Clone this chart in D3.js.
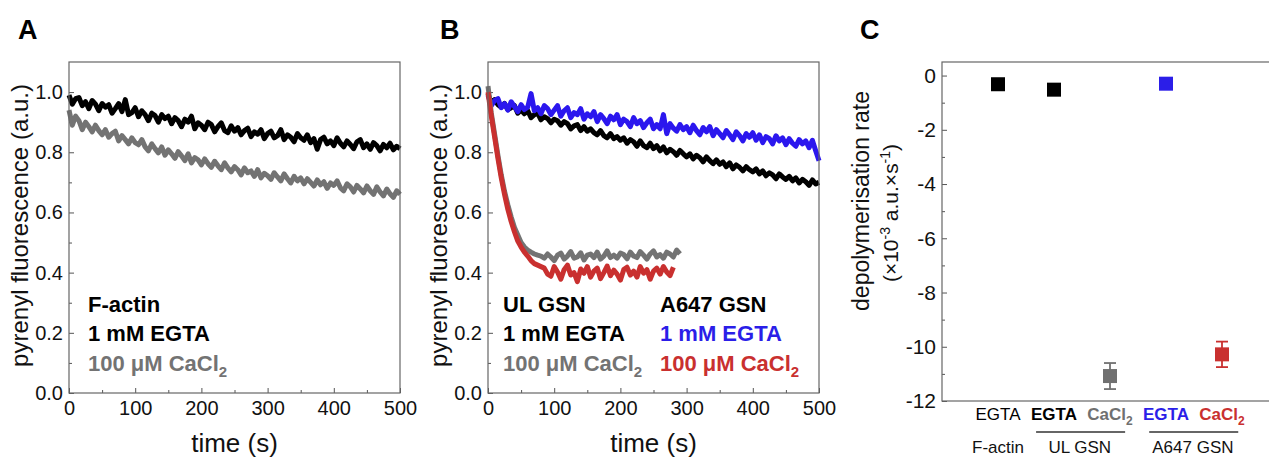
<!DOCTYPE html>
<html><head><meta charset="utf-8">
<script src="https://cdn.jsdelivr.net/npm/d3@7"></script>
<style>
body{margin:0;background:#fff}
svg{display:block;font-family:"Liberation Sans",Arial,Helvetica,sans-serif}
</style>
</head><body>
<svg id="chart" width="1269" height="458"></svg>
<script>
// ---------------- DATA ----------------
const timeStep = 5; // seconds between samples
// Panel A: F-actin, 1 mM EGTA (black)
const aEgta = [
0.99,0.96,0.978,0.982,0.955,0.968,0.945,0.972,0.96,0.938,0.962,
0.95,0.958,0.93,0.945,0.962,0.935,0.975,0.925,0.932,0.948,
0.918,0.938,0.925,0.905,0.93,0.922,0.9,0.925,0.912,0.92,
0.895,0.915,0.905,0.885,0.91,0.9,0.92,0.878,0.898,0.89,
0.875,0.9,0.892,0.868,0.885,0.898,0.872,0.865,0.888,0.87,
0.882,0.858,0.872,0.88,0.852,0.868,0.86,0.875,0.845,0.862,
0.87,0.848,0.855,0.875,0.842,0.858,0.85,0.835,0.862,0.848,
0.84,0.858,0.832,0.845,0.81,0.842,0.85,0.828,0.838,0.822,
0.848,0.83,0.818,0.838,0.826,0.812,0.835,0.842,0.815,0.828,
0.81,0.832,0.822,0.805,0.826,0.815,0.83,0.808,0.82,0.812];
// Panel A: F-actin, 100 uM CaCl2 (grey)
const aCa = [
0.94,0.89,0.92,0.905,0.875,0.9,0.885,0.868,0.89,0.872,0.858,
0.875,0.85,0.862,0.87,0.838,0.855,0.842,0.828,0.848,0.832,
0.825,0.842,0.818,0.805,0.828,0.812,0.798,0.818,0.79,0.808,
0.795,0.78,0.802,0.788,0.772,0.795,0.765,0.782,0.775,0.758,
0.778,0.762,0.75,0.77,0.755,0.742,0.765,0.748,0.735,0.752,
0.742,0.725,0.748,0.732,0.738,0.72,0.742,0.715,0.73,0.722,
0.71,0.732,0.718,0.705,0.728,0.712,0.698,0.72,0.705,0.715,
0.695,0.712,0.7,0.688,0.708,0.692,0.702,0.68,0.698,0.69,
0.705,0.682,0.672,0.695,0.685,0.668,0.69,0.678,0.665,0.688,
0.672,0.66,0.685,0.668,0.655,0.678,0.662,0.65,0.672,0.66];
// Panel B: UL GSN, 1 mM EGTA (black)
const bUlEgta = [
0.995,0.962,0.975,0.958,0.95,0.962,0.942,0.948,0.955,0.93,0.94,
0.928,0.938,0.915,0.925,0.93,0.908,0.918,0.912,0.898,0.91,
0.905,0.89,0.902,0.895,0.878,0.888,0.892,0.872,0.885,0.87,
0.878,0.865,0.858,0.872,0.855,0.848,0.862,0.845,0.852,0.84,
0.848,0.83,0.842,0.835,0.82,0.838,0.822,0.815,0.83,0.812,
0.822,0.805,0.818,0.798,0.81,0.802,0.79,0.806,0.795,0.785,
0.795,0.778,0.79,0.782,0.768,0.785,0.772,0.762,0.775,0.76,
0.768,0.752,0.765,0.745,0.758,0.75,0.738,0.752,0.742,0.735,
0.745,0.728,0.738,0.722,0.732,0.725,0.712,0.728,0.718,0.71,
0.72,0.705,0.715,0.698,0.71,0.702,0.69,0.708,0.695,0.7];
// Panel B: A647 GSN, 1 mM EGTA (blue)
const bA647Egta = [
0.99,0.955,0.972,0.978,0.948,0.962,0.94,0.968,0.952,0.935,0.958,
0.942,0.95,0.995,0.938,0.948,0.928,0.955,0.945,0.925,0.94,
0.955,0.92,0.938,0.948,0.915,0.932,0.925,0.945,0.91,0.928,
0.918,0.935,0.902,0.925,0.912,0.895,0.92,0.908,0.925,0.892,
0.91,0.902,0.885,0.915,0.895,0.905,0.882,0.898,0.91,0.878,
0.892,0.878,0.925,0.862,0.895,0.88,0.87,0.892,0.875,0.885,
0.865,0.89,0.872,0.858,0.882,0.868,0.885,0.855,0.875,0.862,
0.848,0.872,0.858,0.842,0.868,0.855,0.838,0.862,0.85,0.865,
0.84,0.858,0.832,0.852,0.845,0.828,0.855,0.838,0.848,0.825,
0.845,0.83,0.82,0.842,0.828,0.838,0.815,0.84,0.805,0.772];
// Panel B: UL GSN, 100 uM CaCl2 (grey), 0-290 s
const bUlCa = [
1.02,0.93,0.86,0.79,0.725,0.67,0.625,0.585,0.55,0.525,0.5,0.485,0.475,0.468,0.462,0.458,0.455,
0.448,0.462,0.452,0.44,0.458,0.465,0.445,0.455,0.47,0.448,0.452,0.466,0.442,0.458,0.462,0.45,
0.468,0.445,0.455,0.472,0.45,0.458,0.448,0.465,0.46,0.446,0.468,0.455,0.45,0.47,0.458,0.445,
0.462,0.472,0.452,0.46,0.448,0.468,0.462,0.452,0.475,0.462];
// Panel B: A647 GSN, 100 uM CaCl2 (red), 0-280 s
const bA647Ca = [
1.0,0.92,0.85,0.78,0.715,0.66,0.61,0.57,0.535,0.505,0.485,0.468,0.455,0.44,0.43,0.425,0.42,
0.415,0.395,0.388,0.42,0.402,0.378,0.41,0.425,0.392,0.4,0.37,0.412,0.398,0.42,0.385,0.405,
0.415,0.38,0.4,0.422,0.39,0.408,0.395,0.375,0.41,0.418,0.392,0.405,0.385,0.42,0.398,0.41,
0.378,0.405,0.415,0.395,0.42,0.402,0.39,0.418];

const timeTicks = [0,100,200,300,400,500];
const timeMinor = [50,150,250,350,450];
const fluoTicks = [0.0,0.2,0.4,0.6,0.8,1.0];
const fluoMinor = [0.1,0.3,0.5,0.7,0.9];

// Panel C
const cPositions = [1,2,3,4,5];
const cValues = [-0.32,-0.52,-11.08,-0.30,-10.28];
const cErrors = [0.06,0.06,0.48,0.05,0.47];
const cColors = ["#000000","#000000","#707070","#2b1ee8","#c9302f"];
const cLabels = ["EGTA","EGTA","CaCl","EGTA","CaCl"];
const cLabelSub = ["","","2","","2"];
const cLabelBold = [false,true,true,true,true];
const rateTicks = [0,-2,-4,-6,-8,-10,-12];
const rateMinor = [-1,-3,-5,-7,-9,-11];
const groupLabels = ["F-actin","UL GSN","A647 GSN"];
const groupCenters = [1,2.46,4.48];
const groupSpans = [null,[1.68,3.27],[3.7,5.29]];

// ---------------- DRAW ----------------
const svg = d3.select("#chart");
const frameColor = "#666";
const tickColor = "#555";

function styleAxis(sel, fs){
  sel.attr("font-size",null).attr("font-family",null);
  sel.select(".domain").remove();
  sel.selectAll(".tick line").attr("stroke",tickColor).attr("stroke-width",1);
  sel.selectAll("text").attr("font-size",fs).attr("fill","#111");
}

function tracePanel(box, series, letter, letterX){
  const x = d3.scaleLinear().domain([0,500]).range([box.left,box.right]);
  const y = d3.scaleLinear().domain([0,1.1]).range([box.bottom,box.top]);
  const g = svg.append("g");
  g.append("g").attr("transform",`translate(0,${box.bottom})`)
    .call(d3.axisBottom(x).tickValues(timeTicks).tickSize(-5).tickPadding(8).tickFormat(d3.format("d")))
    .call(s=>styleAxis(s,20));
  g.append("g").attr("transform",`translate(0,${box.bottom})`)
    .call(d3.axisBottom(x).tickValues(timeMinor).tickSize(-3).tickFormat(""))
    .call(s=>styleAxis(s,20));
  g.append("g").attr("transform",`translate(${box.left},0)`)
    .call(d3.axisLeft(y).tickValues(fluoTicks).tickSize(-5).tickPadding(6).tickFormat(d3.format(".1f")))
    .call(s=>styleAxis(s,20));
  g.append("g").attr("transform",`translate(${box.left},0)`)
    .call(d3.axisLeft(y).tickValues(fluoMinor).tickSize(-3).tickFormat(""))
    .call(s=>styleAxis(s,20));
  series.forEach(s=>{
    const line = d3.line().x((d,i)=>x(i*timeStep)).y(d=>y(d));
    g.append("path").datum(s.values).attr("d",line).attr("fill","none")
      .attr("stroke",s.color).attr("stroke-width",5).attr("stroke-linejoin","round");
  });
  g.append("rect").attr("x",box.left).attr("y",box.top)
    .attr("width",box.right-box.left).attr("height",box.bottom-box.top)
    .attr("fill","none").attr("stroke",frameColor).attr("stroke-width",1.2);
  g.append("text").attr("x",(box.left+box.right)/2).attr("y",452).attr("text-anchor","middle")
    .attr("font-size",26).attr("fill","#111").text("time (s)");
  g.append("text").attr("transform",`translate(${box.left-41},${(box.top+box.bottom)/2-2}) rotate(-90)`)
    .attr("text-anchor","middle").attr("font-size",24).attr("fill","#111")
    .text("pyrenyl fluorescence (a.u.)");
  svg.append("text").attr("x",letterX).attr("y",39).attr("font-size",27).attr("font-weight","bold")
    .text(letter);
  return {x,y,g};
}

function legendText(g, x, y, txt, sub, color){
  const t = g.append("text").attr("x",x).attr("y",y).attr("font-size",22)
    .attr("font-weight","bold").attr("fill",color);
  t.append("tspan").text(txt);
  if(sub) t.append("tspan").attr("dy",6).attr("font-size",15).text(sub);
}

// Panel A
const boxA = {left:69,right:400,top:62,bottom:393};
const pA = tracePanel(boxA,[
  {values:aEgta,color:"#000"},
  {values:aCa,color:"#737373"}
],"A",18);
legendText(pA.g,88,312,"F-actin","", "#000");
legendText(pA.g,88,341,"1 mM EGTA","", "#000");
legendText(pA.g,88,371,"100 μM CaCl","2","#737373");

// Panel B
const boxB = {left:488,right:819,top:62,bottom:393};
const pB = tracePanel(boxB,[
  {values:bUlEgta,color:"#000"},
  {values:bA647Egta,color:"#2b17ee"},
  {values:bUlCa,color:"#737373"},
  {values:bA647Ca,color:"#c9302f"}
],"B",440);
legendText(pB.g,503,312,"UL GSN","", "#000");
legendText(pB.g,503,341,"1 mM EGTA","", "#000");
legendText(pB.g,503,371,"100 μM CaCl","2","#737373");
legendText(pB.g,660,312,"A647 GSN","", "#000");
legendText(pB.g,660,341,"1 mM EGTA","", "#2b1ee8");
legendText(pB.g,660,371,"100 μM CaCl","2","#c9302f");

// Panel C
const boxC = {left:942,right:1278,top:62,bottom:401};
const xc = d3.scaleLinear().domain([0,6]).range([boxC.left,boxC.right]);
const yc = d3.scaleLinear().domain([-12,0.5]).range([boxC.bottom,boxC.top]);
const gC = svg.append("g");
gC.append("g").attr("transform",`translate(${boxC.left},0)`)
  .call(d3.axisLeft(yc).tickValues(rateTicks).tickSize(-5).tickPadding(6).tickFormat(d=>String(d)))
  .call(s=>styleAxis(s,21));
gC.append("g").attr("transform",`translate(${boxC.left},0)`)
  .call(d3.axisLeft(yc).tickValues(rateMinor).tickSize(-3).tickFormat(""))
  .call(s=>styleAxis(s,21));
gC.append("rect").attr("x",boxC.left).attr("y",boxC.top)
  .attr("width",boxC.right-boxC.left).attr("height",boxC.bottom-boxC.top)
  .attr("fill","none").attr("stroke",frameColor).attr("stroke-width",1.2);
cPositions.forEach((p,i)=>{
  const cx = xc(p), v = cValues[i], e = cErrors[i], col = cColors[i];
  gC.append("line").attr("x1",cx).attr("x2",cx).attr("y1",yc(v+e)).attr("y2",yc(v-e))
    .attr("stroke",col).attr("stroke-width",1.8);
  [v+e,v-e].forEach(w=>gC.append("line").attr("x1",cx-6).attr("x2",cx+6)
    .attr("y1",yc(w)).attr("y2",yc(w)).attr("stroke",col).attr("stroke-width",1.8));
  gC.append("rect").attr("x",cx-7).attr("y",yc(v)-7).attr("width",14).attr("height",14)
    .attr("fill",col);
  const t = gC.append("text").attr("x",cx).attr("y",420).attr("text-anchor","middle")
    .attr("font-size",17).attr("font-weight",cLabelBold[i]?"bold":"normal").attr("fill",col);
  t.append("tspan").text(cLabels[i]);
  if(cLabelSub[i]) t.append("tspan").attr("dy",5).attr("font-size",12).text(cLabelSub[i]);
});
groupLabels.forEach((lab,i)=>{
  gC.append("text").attr("x",xc(groupCenters[i])).attr("y",453).attr("text-anchor","middle")
    .attr("font-size",17).attr("fill","#111").text(lab);
  if(groupSpans[i]) gC.append("line").attr("x1",xc(groupSpans[i][0])).attr("x2",xc(groupSpans[i][1]))
    .attr("y1",432).attr("y2",432).attr("stroke","#333").attr("stroke-width",1.5);
});
gC.append("text").attr("transform","translate(869,201) rotate(-90)").attr("text-anchor","middle")
  .attr("font-size",23).attr("fill","#111").text("depolymerisation rate");
const t2 = gC.append("text").attr("transform","translate(898,213) rotate(-90)").attr("text-anchor","middle")
  .attr("font-size",21).attr("fill","#111");
t2.append("tspan").text("(×10");
t2.append("tspan").attr("dy",-8).attr("font-size",14).text("-3");
t2.append("tspan").attr("dy",8).text(" a.u.×s");
t2.append("tspan").attr("dy",-8).attr("font-size",14).text("-1");
t2.append("tspan").attr("dy",8).text(")");
svg.append("text").attr("x",860).attr("y",39).attr("font-size",27).attr("font-weight","bold").text("C");
</script>
</body></html>
